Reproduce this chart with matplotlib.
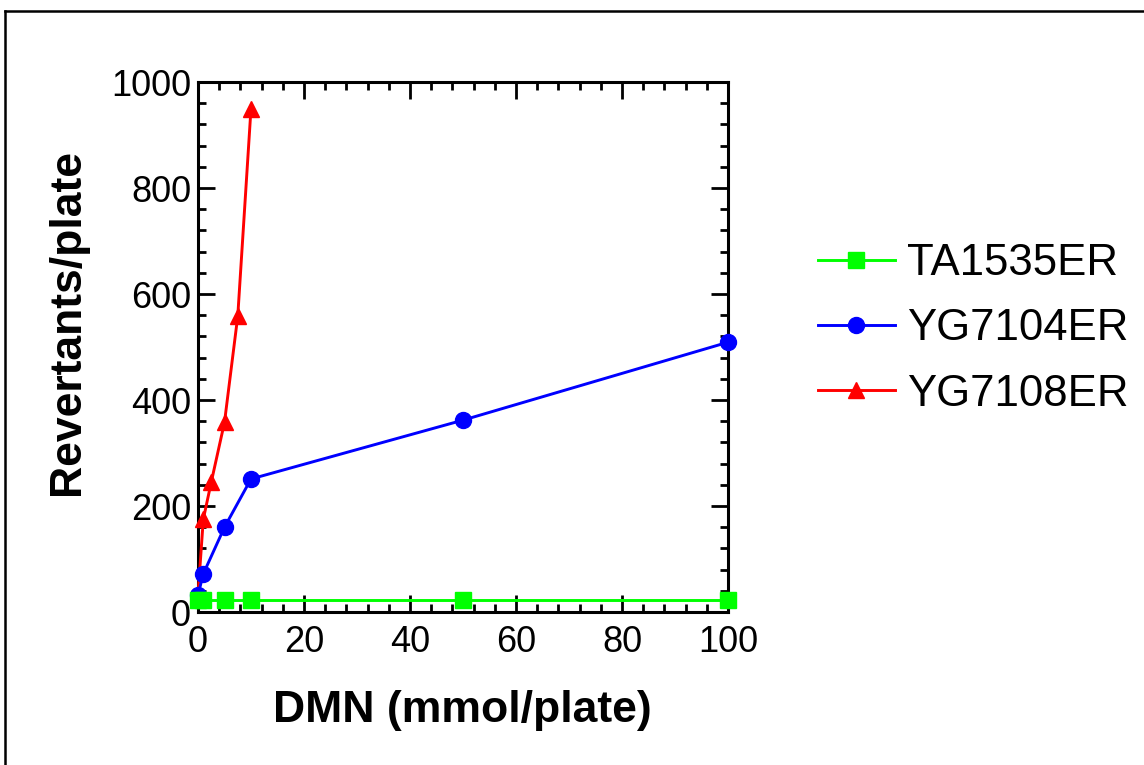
import matplotlib
matplotlib.use("Agg")
import matplotlib.pyplot as plt
from matplotlib.lines import Line2D
from matplotlib.ticker import MultipleLocator

plt.rcParams['font.family'] = ['Liberation Sans', 'DejaVu Sans']

# Data
ta_x = [0, 1, 5, 10, 50, 100]
ta_y = [22, 22, 22, 22, 22, 22]
yg4_x = [0, 1, 5, 10, 50, 100]
yg4_y = [32, 72, 160, 251, 362, 509]
yg8_x = [0, 1, 2.5, 5, 7.5, 10]
yg8_y = [32, 175, 245, 358, 558, 950]
labels = ["TA1535ER", "YG7104ER", "YG7108ER"]

W, H = 1144, 765
fig = plt.figure(figsize=(W / 100, H / 100), dpi=100)
ax = fig.add_axes([198 / W, 1 - 612 / H, (728 - 198) / W, (612 - 82) / H])

l3, = ax.plot(yg8_x, yg8_y, color='#ff0000', marker='^', markersize=12, lw=2.1,
              clip_on=False, label=labels[2], zorder=3)
l2, = ax.plot(yg4_x, yg4_y, color='#0000ff', marker='o', markersize=11.5, lw=2.1,
              clip_on=False, label=labels[1], zorder=4)
l1, = ax.plot(ta_x, ta_y, color='#00ff00', marker='s', markersize=11.5, lw=2.1,
              clip_on=False, label=labels[0], zorder=5)

ax.set_xlim(0, 100)
ax.set_ylim(0, 1000)
ax.xaxis.set_major_locator(MultipleLocator(20))
ax.xaxis.set_minor_locator(MultipleLocator(4))
ax.yaxis.set_major_locator(MultipleLocator(200))
ax.yaxis.set_minor_locator(MultipleLocator(40))

for s in ax.spines.values():
    s.set_linewidth(2.2)
ax.tick_params(which='both', direction='in', top=True, right=True, width=2.0)
ax.tick_params(which='major', length=12, labelsize=26)
ax.tick_params(which='minor', length=6)
ax.tick_params(axis='x', pad=9)
ax.tick_params(axis='y', pad=5)

ax.set_xlabel("DMN (mmol/plate)", fontsize=32, fontweight='bold')
ax.xaxis.set_label_coords(462 / W, 1 - 690 / H, transform=fig.transFigure)
ax.set_ylabel("Revertants/plate", fontsize=32, fontweight='bold')
ax.yaxis.set_label_coords(88 / W, 1 - 322 / H, transform=fig.transFigure)

leg = ax.legend(handles=[l1, l2, l3], loc='center left',
                bbox_to_anchor=(818 / W, 1 - 329 / H), bbox_transform=fig.transFigure,
                frameon=False, fontsize=31.5, handlelength=1.75, handletextpad=0.28,
                labelspacing=0.55, borderpad=0, borderaxespad=0)

# figure border lines (top and left)
fig.add_artist(Line2D([5 / W, 1], [1 - 11 / H, 1 - 11 / H], color='black', lw=1.8,
                      transform=fig.transFigure))
fig.add_artist(Line2D([5 / W, 5 / W], [0, 1 - 11 / H], color='black', lw=1.8,
                      transform=fig.transFigure))

fig.savefig("out.png", dpi=100)
